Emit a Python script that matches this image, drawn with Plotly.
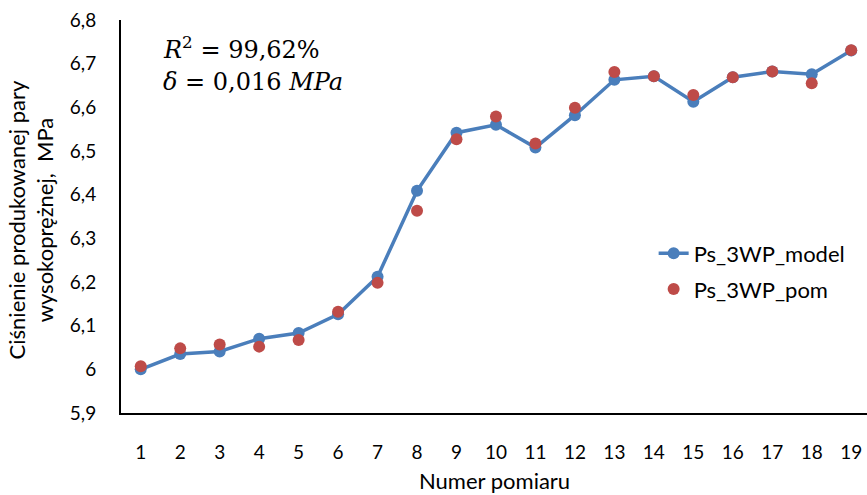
import plotly.graph_objects as go

categories = list(range(1, 20))
ps_model = [6.000, 6.035, 6.041, 6.070, 6.083, 6.126, 6.212, 6.409, 6.542, 6.560,
            6.508, 6.582, 6.663, 6.671, 6.613, 6.669, 6.682, 6.676, 6.730]
ps_pom = [6.007, 6.048, 6.057, 6.052, 6.067, 6.132, 6.198, 6.363, 6.527, 6.579,
          6.517, 6.599, 6.681, 6.671, 6.628, 6.669, 6.682, 6.655, 6.731]
y_ticks = [5.9, 6.0, 6.1, 6.2, 6.3, 6.4, 6.5, 6.6, 6.7, 6.8]

font_main = "Lato"

fig = go.Figure()
fig.add_trace(go.Scatter(
    x=categories, y=ps_model, name="Ps_3WP_model", mode="lines+markers",
    line=dict(color="#4A7EBB", width=3.5),
    marker=dict(color="#4A7EBB", size=12),
    legendgroup="a",
))
fig.add_trace(go.Scatter(
    x=categories, y=ps_pom, name="Ps_3WP_pom", mode="markers",
    marker=dict(color="#BE4B48", size=12),
    legendgroup="b",
))

fig.update_layout(
    width=867, height=495,
    margin=dict(l=121, r=0, t=20, b=82, autoexpand=False),
    plot_bgcolor="white", paper_bgcolor="white",
    separators=", ",
    font=dict(family=font_main, size=18, color="black"),
    showlegend=True,
    legend=dict(x=0.714, y=0.36, xanchor="left", yanchor="middle",
                font=dict(size=22, family=font_main), bgcolor="rgba(0,0,0,0)",
                traceorder="grouped", tracegroupgap=4),
    xaxis=dict(
        range=[0.5, 19.4], tickmode="array", tickvals=categories,
        ticktext=[str(c) for c in categories],
        showgrid=False, zeroline=False, showline=True, linecolor="black",
        linewidth=2, ticks="", ticklabelstandoff=21, automargin=False,
        tickfont=dict(size=19),
    ),
    yaxis=dict(
        range=[5.9, 6.8], tickmode="array", tickvals=y_ticks,
        ticktext=[("%g" % v).replace(".", ",") for v in y_ticks],
        showgrid=False, zeroline=False, showline=True, linecolor="black",
        linewidth=2, ticks="", ticklabelstandoff=19, automargin=False,
        tickfont=dict(size=19),
    ),
)

fig.add_annotation(
    text="Numer pomiaru", xref="paper", yref="paper", x=0.5, y=0,
    yshift=-67, showarrow=False, font=dict(size=22), yanchor="middle",
)
fig.add_annotation(
    text="Ciśnienie produkowanej pary<br>wysokoprężnej,  MPa",
    xref="paper", yref="paper", x=0, y=0.49, xshift=-90, showarrow=False,
    textangle=-90, font=dict(size=22), xanchor="center", yanchor="middle",
)
fig.add_annotation(
    text="<i>R</i><sup>2</sup> = 99,62%",
    xref="paper", yref="paper", x=0.053, y=0.929, xanchor="left", yanchor="middle",
    showarrow=False, align="left",
    font=dict(family="DejaVu Serif", size=24),
)
fig.add_annotation(
    text="<i>δ</i> = 0,016 <i>MPa</i>",
    xref="paper", yref="paper", x=0.053, y=0.842, xanchor="left", yanchor="middle",
    showarrow=False, align="left",
    font=dict(family="DejaVu Serif", size=24),
)

fig.write_html("out.html", config={"displayModeBar": False},
               post_script="document.body.style.margin='0px';")
